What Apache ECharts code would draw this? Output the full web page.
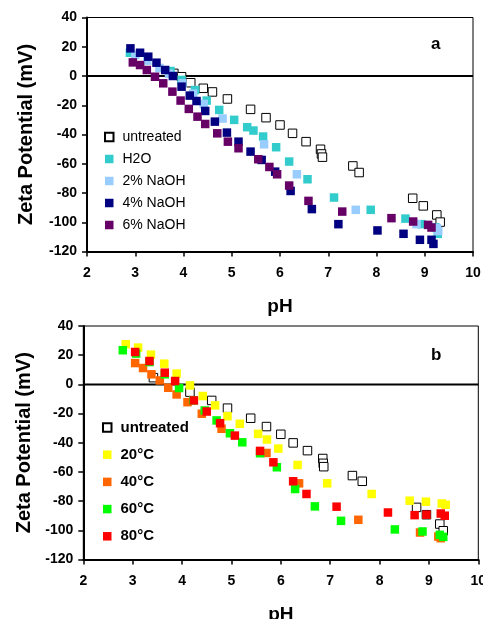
<!DOCTYPE html>
<html><head><meta charset="utf-8">
<script src="https://cdn.jsdelivr.net/npm/echarts@6/dist/echarts.min.js"></script>
<style>html,body{margin:0;padding:0;background:#fff}#c{width:483px;height:619px}</style>
</head><body><div id="c"></div>
<script>
// ---- Panel a ----
const aUntreated = [[3.80,1.8],[3.96,-0.5],[4.15,-4.6],[4.41,-8.4],[4.60,-10.9],[4.91,-15.7],[5.39,-22.8],[5.71,-28.5],[6.00,-33.5],[6.26,-39.2],[6.54,-44.9],[6.84,-50.1],[6.86,-53.3],[6.88,-55.5],[7.51,-61.5],[7.64,-66],[8.75,-83.6],[8.97,-88.8],[9.25,-95],[9.32,-99.9]];
const aH2O = [[2.89,15.9],[3.73,3.4],[3.96,-2.7],[4.24,-9.6],[4.48,-16.8],[4.74,-23.2],[5.05,-30],[5.32,-35],[5.45,-37.3],[5.65,-41.4],[5.92,-48.7],[6.19,-58.5],[6.57,-70.6],[7.12,-83.1],[7.88,-91.5],[8.60,-97.5],[8.93,-101.3],[9.22,-103.5],[9.27,-107.9]];
const a2NaOH = [[3.00,14.5],[3.25,10.5],[3.50,5.5],[3.70,1.5],[3.98,-5.0],[4.20,-12.0],[4.42,-19.1],[4.81,-29.1],[5.67,-46.7],[6.35,-67.2],[7.57,-91.5],[8.83,-101.3],[9.25,-104],[9.28,-106]];
const a4NaOH = [[2.90,18.9],[3.10,15.9],[3.27,13.2],[3.44,9.1],[3.62,4.1],[3.78,0],[3.96,-7.3],[4.13,-13.4],[4.27,-17.1],[4.45,-23.9],[4.65,-31.2],[4.90,-38.7],[5.14,-44.9],[5.39,-51.7],[5.62,-57.4],[5.90,-65.4],[6.22,-78.6],[6.66,-91],[7.21,-101.3],[8.02,-105.6],[8.56,-107.9],[8.90,-112],[9.14,-112],[9.18,-114.8]];
const a6NaOH = [[2.95,9.3],[3.10,7.5],[3.24,4.1],[3.41,-0.5],[3.58,-5.0],[3.77,-10.7],[3.94,-16.8],[4.11,-22.5],[4.29,-27.8],[4.45,-32.8],[4.70,-39.2],[4.92,-44.9],[5.14,-49.4],[5.55,-56.9],[5.78,-62.2],[5.94,-67.2],[6.19,-74.9],[6.59,-85.4],[7.29,-92.7],[8.31,-97.2],[8.76,-99.5],[9.07,-101.8],[9.14,-103.6]];
// ---- Panel b ----
const bUntreated = [[3.42,4.6],[4.16,-5.3],[4.60,-11],[4.92,-16.3],[5.39,-23.2],[5.71,-28.9],[6.00,-34.2],[6.25,-40.1],[6.54,-45.4],[6.85,-50.8],[6.86,-54.1],[6.87,-56.4],[7.45,-62.5],[7.65,-66.4],[8.75,-84.3],[8.95,-89.3],[9.22,-95.7],[9.29,-100.3]];
const b20C = [[2.86,27.5],[3.11,25.2],[3.37,20.4],[3.64,14.2],[3.89,7.4],[4.16,-0.7],[4.42,-8.0],[4.67,-14.4],[4.92,-21.8],[5.17,-27],[5.54,-33.9],[5.72,-37.8],[5.95,-44],[6.34,-55.2],[6.94,-67.8],[7.84,-75.1],[8.61,-79.7],[8.94,-80.4],[9.26,-81.6],[9.34,-82.5]];
const b40C = [[3.05,14.6],[3.21,11.2],[3.38,6.9],[3.55,2.7],[3.72,-2.3],[3.89,-6.9],[4.11,-12.2],[4.40,-20.1],[4.80,-30.4],[5.71,-47],[6.37,-67.8],[7.57,-92.8],[8.82,-101.5],[9.19,-104.3],[9.24,-105.4]];
const b60C = [[2.80,23.4],[3.07,21.1],[3.34,15.3],[3.65,6.9],[3.94,-2.5],[4.23,-11],[4.46,-17.9],[4.70,-24.7],[4.97,-33.5],[5.22,-39.7],[5.58,-47.2],[5.92,-56.8],[6.29,-71.7],[6.69,-83.6],[7.22,-93.5],[8.31,-99.4],[8.87,-100.8],[9.22,-103.1],[9.29,-104.5]];
const b80C = [[3.05,22.2],[3.34,16],[3.65,8],[3.86,2.3],[4.24,-11],[4.50,-18.6],[4.77,-26.6],[5.07,-35.1],[5.58,-45.6],[5.85,-53.4],[6.25,-66.4],[6.52,-75.1],[7.13,-83.8],[8.17,-87.8],[8.71,-89.6],[8.95,-89.3],[9.24,-88.5],[9.32,-90]];

const xTicks = [2,3,4,5,6,7,8,9,10];
const yTicks = [-120,-100,-80,-60,-40,-20,0,20,40];

const FONT = '"Liberation Sans", Arial, sans-serif';
const chart = echarts.init(document.getElementById('c'), null, {renderer:'canvas'});

function xAx(gi){
  return {type:'value', gridIndex:gi, min:xTicks[0], max:xTicks[xTicks.length-1], interval:1,
    name:'pH', nameLocation:'middle', nameGap: 46,
    nameTextStyle:{fontFamily:FONT, fontWeight:'bold', fontSize:19, color:'#000'},
    axisLine:{show:true, onZero:false, lineStyle:{color:'#000', width:2}},
    axisTick:{show:true, inside:false, length:5, lineStyle:{color:'#000', width:1.5}},
    axisLabel:{fontFamily:FONT, fontWeight:'bold', fontSize:14, color:'#000', margin:15},
    splitLine:{show:false}};
}
function yAx(gi){
  return {type:'value', gridIndex:gi, min:yTicks[0], max:yTicks[yTicks.length-1], interval:20,
    name:'Zeta Potential (mV)', nameLocation:'middle', nameGap: gi===0?51:47, nameRotate:90,
    nameTextStyle:{fontFamily:FONT, fontWeight:'bold', fontSize:20, color:'#000'},
    axisLine:{show:true, onZero:false, lineStyle:{color:'#000', width:2}},
    axisTick:{show:true, inside:false, length:5, lineStyle:{color:'#000', width:1.5}},
    axisLabel:{fontFamily:FONT, fontWeight:'bold', fontSize:14, color:'#000', margin:10},
    splitLine:{show:false}};
}
function sc(name, data, gi, color, hollow){
  return {name, type:'scatter', xAxisIndex:gi, yAxisIndex:gi, data, symbol:'rect', symbolSize:8.5,
    itemStyle: hollow ? {color:'#fff', borderColor:'#000', borderWidth:1, opacity:1} : {color, opacity:1},
    emphasis:{disabled:true}, z:2};
}
function zero(gi){
  return {type:'line', xAxisIndex:gi, yAxisIndex:gi, data:[[2,0],[10,0]], symbol:'none',
    lineStyle:{color:'#000', width:2}, z:1, silent:true};
}

const legendText = (bold, size)=>({fontFamily:FONT, fontSize:size, fontWeight: bold?'bold':'normal', color:'#000', padding:[0,0,0,4]});

chart.setOption({
  animation:false,
  backgroundColor:'#fff',
  grid:[
    {left:87, top:17.5, right:10, height:234, show:true, borderColor:'#000', borderWidth:1, containLabel:false, outerBoundsMode:'none'},
    {left:83.3, top:326, right:4.7, height:233.5, show:true, borderColor:'#000', borderWidth:1, containLabel:false, outerBoundsMode:'none'}
  ],
  xAxis:[xAx(0), xAx(1)],
  yAxis:[yAx(0), yAx(1)],
  legend:[
    {orient:'vertical', left:99, top:125, itemWidth:8.5, itemHeight:8.5, itemGap:8, icon:'rect',
     data:['untreated','H2O','2% NaOH','4% NaOH','6% NaOH'], textStyle:legendText(false, 14), selectedMode:false},
    {orient:'vertical', left:97, top:415, itemWidth:8.5, itemHeight:8.5, itemGap:12.2, icon:'rect',
     data:['untreated ','20°C','40°C','60°C','80°C'], textStyle:legendText(true, 15), selectedMode:false}
  ],
  graphic:[
    {type:'text', left:431, top:36, style:{text:'a', font:'bold 17px '+FONT, fill:'#000'}},
    {type:'text', left:431, top:347, style:{text:'b', font:'bold 17px '+FONT, fill:'#000'}}
  ],
  series:[
    zero(0), zero(1),
    sc('untreated', aUntreated, 0, '#fff', true),
    sc('H2O', aH2O, 0, '#33CCCC'),
    sc('2% NaOH', a2NaOH, 0, '#99CCFF'),
    sc('4% NaOH', a4NaOH, 0, '#000080'),
    sc('6% NaOH', a6NaOH, 0, '#660066'),
    sc('untreated ', bUntreated, 1, '#fff', true),
    sc('20°C', b20C, 1, '#FFFF00'),
    sc('40°C', b40C, 1, '#FF6600'),
    sc('60°C', b60C, 1, '#00FF00'),
    sc('80°C', b80C, 1, '#FF0000')
  ]
});
</script></body></html>
